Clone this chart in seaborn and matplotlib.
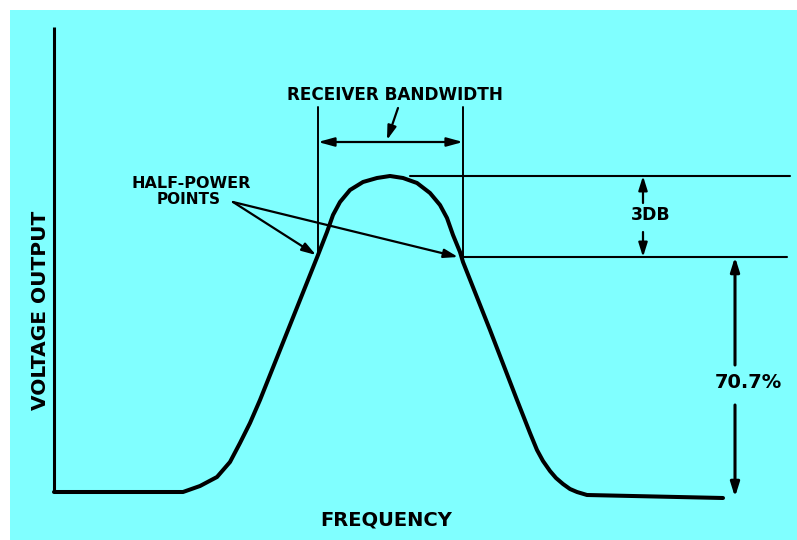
import matplotlib
matplotlib.use("Agg")
import matplotlib.pyplot as plt
import seaborn as sns
import pandas as pd

# Response curve of a receiver: voltage output versus frequency
freq = [0, 129, 146, 163, 176, 186, 196, 206, 236, 264, 273, 279, 286, 296, 309,
        323, 336, 349, 363, 376, 386, 393, 399, 406, 409, 436, 463, 476, 483, 489,
        496, 502, 509, 516, 523, 533, 669]
volt = [1, 1, 7, 16, 31, 50, 70, 93, 168, 238, 261, 278, 291, 303, 311,
        315, 317, 315, 310, 300, 288, 275, 258, 241, 231, 163, 93, 60, 43, 32,
        22, 15, 9, 4, 1, -2, -5]

# Reference levels and positions of the annotation marks
peak_level = 317
half_power_level = 236
base_level = -4
lower_edge = 264      # left half-power frequency
upper_edge = 409      # right half-power frequency
axis_top = 466

sns.set_theme(style="white")
plt.rcParams["font.family"] = ["DejaVu Sans"]

BG = "#80FFFF"
INK = "black"

fig = plt.figure(figsize=(7.97, 5.40), dpi=100, facecolor="white")
ax = fig.add_axes([10 / 797, 0, 787 / 797, 530 / 540])
ax.set_facecolor(BG)
ax.set_xlim(-44, 743)
ax.set_ylim(-47, 483)
for s in ax.spines.values():
    s.set_visible(False)
ax.set_xticks([])
ax.set_yticks([])

df = pd.DataFrame({"Frequency": freq, "Voltage": volt})
sns.lineplot(data=df, x="Frequency", y="Voltage", sort=False, estimator=None,
             color=INK, linewidth=2.9, ax=ax)
ax.set_xlabel("")
ax.set_ylabel("")

# Vertical axis
ax.plot([0, 0], [volt[0], axis_top], color=INK, lw=2.2, solid_capstyle="butt")

# Bandwidth edge lines
ax.plot([lower_edge, lower_edge], [238, 386], color=INK, lw=1.4)
ax.plot([upper_edge, upper_edge], [half_power_level, 386], color=INK, lw=1.4)

# Level lines on the right
ax.plot([356, 736], [peak_level, peak_level], color=INK, lw=1.5)
ax.plot([upper_edge, 733], [half_power_level, half_power_level], color=INK, lw=1.5)

arrow_kw = dict(arrowstyle="-|>,head_length=0.7,head_width=0.22", color=INK,
                lw=1.6, shrinkA=0, shrinkB=0)

# Bandwidth dimension
ax.annotate("", xy=(lower_edge, 351), xytext=(upper_edge, 351),
            arrowprops=dict(arrowstyle="<|-|>,head_length=0.8,head_width=0.22",
                            color=INK, lw=1.6, shrinkA=0, shrinkB=0))
ax.annotate("", xy=(333, 353), xytext=(344, 385), arrowprops=arrow_kw)
ax.text(341, 398, "RECEIVER BANDWIDTH", ha="center", va="center",
        fontsize=12.2, fontweight="bold", color=INK)

# Half-power pointers
ax.annotate("", xy=(262, 238), xytext=(179, 291), arrowprops=arrow_kw)
ax.annotate("", xy=(404, 236), xytext=(179, 291), arrowprops=arrow_kw)
ax.text(137, 310, "HALF-POWER", ha="center", va="center",
        fontsize=11.5, fontweight="bold", color=INK)
ax.text(135, 294, "POINTS", ha="center", va="center",
        fontsize=11, fontweight="bold", color=INK)

# 3 dB dimension
ax.annotate("", xy=(589, peak_level), xytext=(589, 290), arrowprops=arrow_kw)
ax.annotate("", xy=(589, half_power_level), xytext=(589, 261), arrowprops=arrow_kw)
ax.text(597, 278, "3DB", ha="center", va="center",
        fontsize=12.5, fontweight="bold", color=INK)

# 70.7 % dimension
ax.annotate("", xy=(681, half_power_level), xytext=(681, 128),
            arrowprops=dict(arrowstyle="-|>,head_length=0.7,head_width=0.22",
                            color=INK, lw=2.2, shrinkA=0, shrinkB=0))
ax.annotate("", xy=(681, base_level), xytext=(681, 88),
            arrowprops=dict(arrowstyle="-|>,head_length=0.7,head_width=0.22",
                            color=INK, lw=2.2, shrinkA=0, shrinkB=0))
ax.text(694, 110, "70.7%", ha="center", va="center",
        fontsize=14, fontweight="bold", color=INK)

# Axis titles
ax.text(-13, 183, "VOLTAGE OUTPUT", ha="center", va="center", rotation=90,
        fontsize=14.5, fontweight="bold", color=INK)
ax.text(332, -27, "FREQUENCY", ha="center", va="center",
        fontsize=14, fontweight="bold", color=INK)

fig.savefig("out.png", dpi=100, facecolor="white")
